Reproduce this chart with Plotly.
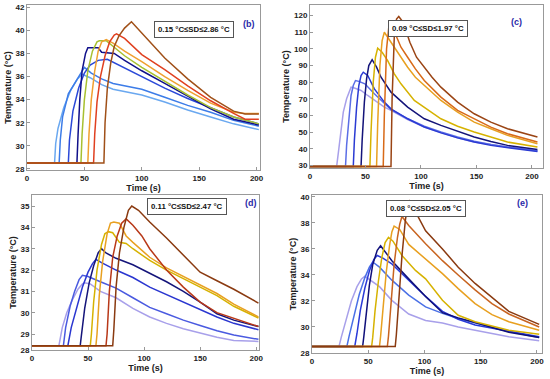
import plotly.graph_objects as go

# ---------------- Panel (b) ----------------
b_colors = ['#6aa8f0', '#3c7ce8', '#2a48d8', '#10108a', '#a8c030', '#f0a030', '#e04020', '#a05018']
b_t = [
    [0, 24, 25, 27, 32, 38, 44, 48, 55, 65, 75, 90, 100, 120, 140, 160, 180, 202],
    [0, 28, 29, 31, 36, 42, 47, 50, 56, 65, 75, 90, 100, 120, 140, 160, 180, 202],
    [0, 36, 37, 40, 45, 50, 55, 62, 70, 80, 100, 120, 140, 160, 180, 202],
    [0, 43.5, 44.5, 46, 48, 51, 53, 62, 65, 72, 76, 85, 100, 120, 140, 160, 180, 202],
    [0, 47, 48, 50, 53, 57, 61, 63, 69, 75, 85, 100, 120, 140, 160, 180, 202],
    [0, 53, 54, 56, 59, 62, 65, 69, 75, 85, 100, 120, 140, 160, 180, 190, 202],
    [0, 58, 59, 61, 64, 68, 72, 76, 78, 85, 100, 120, 140, 160, 180, 190, 202],
    [0, 67, 68, 70, 73, 76, 80, 85, 91, 100, 120, 140, 160, 180, 190, 202],
]
b_T = [
    [28.5, 28.5, 30.2, 31.5, 33.3, 34.8, 35.8, 36.2, 35.9, 35.3, 34.9, 34.6, 34.4, 33.8, 33.1, 32.5, 31.9, 31.4],
    [28.5, 28.5, 30.5, 32.5, 34.5, 35.5, 36.3, 36.8, 36.3, 35.8, 35.4, 35.1, 34.9, 34.2, 33.5, 32.9, 32.2, 31.7],
    [28.5, 28.5, 30.5, 33.0, 35.0, 36.3, 37.0, 37.4, 37.5, 37.0, 36.0, 35.0, 34.1, 33.3, 32.5, 31.9],
    [28.5, 28.5, 31.0, 34.0, 36.5, 38.0, 38.5, 38.5, 38.1, 38.0, 38.0, 37.4, 36.5, 35.4, 34.3, 33.2, 32.3, 31.8],
    [28.5, 28.5, 31.0, 34.0, 36.5, 38.2, 39.0, 39.1, 39.1, 38.6, 37.8, 36.8, 35.6, 34.4, 33.3, 32.5, 31.9],
    [28.5, 28.5, 31.0, 34.0, 36.5, 38.2, 39.0, 39.2, 38.9, 38.2, 37.3, 36.0, 34.8, 33.7, 32.9, 32.8, 32.8],
    [28.5, 28.5, 31.0, 33.8, 36.0, 37.8, 39.0, 39.6, 39.7, 39.3, 37.9, 36.6, 35.2, 33.9, 32.8, 32.3, 32.3],
    [28.5, 28.5, 32.0, 35.0, 37.2, 38.6, 39.5, 40.2, 40.75, 39.8, 37.6, 35.8, 34.2, 33.0, 32.75, 32.75],
]

# ---------------- Panel (c) ----------------
c_colors = ['#a8a0ea', '#5b6ee6', '#2b3bd3', '#14147a', '#d6b200', '#e8a020', '#d86a18', '#9a4414']
c_t = [
    [0, 24, 26, 28, 30, 33, 36, 37, 40, 46, 52, 58, 67, 73, 88, 103, 118, 133, 148, 163, 178, 205],
    [0, 32, 33, 35, 37, 39, 41, 44, 49.5, 58, 67, 73, 88, 103, 118, 133, 148, 163, 178, 205],
    [0, 39, 40, 42, 44, 46, 48, 52, 58, 67, 73, 88, 103, 118, 133, 148, 163, 178, 205],
    [0, 46, 47, 49, 51, 53, 56, 60, 64, 73, 88, 103, 118, 133, 148, 163, 178, 205],
    [0, 54, 55, 57, 59, 61, 65, 70, 76, 82, 94, 103, 118, 133, 148, 163, 178, 205],
    [0, 60, 61, 63, 65, 67, 70, 76, 82, 88, 95, 103, 118, 133, 148, 163, 178, 205],
    [0, 66, 67, 69, 71, 72, 75, 82, 88, 95, 103, 118, 133, 148, 163, 178, 205],
    [0, 73, 74, 76, 78, 80, 84, 90, 96, 103, 110, 118, 133, 148, 163, 178, 205],
]
c_T = [
    [29.3, 29.3, 40, 52, 62, 70, 75.5, 77, 76.5, 75, 72, 69, 65, 63, 57.5, 53, 49.6, 46.5, 44, 42.3, 41, 38.6],
    [29.3, 29.3, 42, 60, 72, 78, 81, 80.5, 79, 73, 67, 63.5, 58, 53.5, 50, 47, 44.5, 42.5, 41, 38.8],
    [29.3, 29.3, 45, 65, 78, 84, 86, 84, 76, 68, 64, 58, 53, 49.5, 46.5, 44, 42, 40.7, 38.3],
    [29.3, 29.3, 45, 68, 82, 90, 93.5, 89, 83, 74, 65, 58, 54, 50.5, 47, 44.3, 42, 39.5],
    [29.3, 29.3, 50, 80, 95, 100.5, 98, 93, 85, 79, 69, 65, 58, 53.5, 50, 47, 44, 41],
    [29.3, 29.3, 55, 90, 105, 110, 107, 101, 95, 89, 83, 78, 69, 62, 56, 52, 48, 43],
    [29.3, 29.3, 60, 100, 113, 114.5, 112, 101, 95, 88, 81, 71, 63, 58, 53, 49, 44],
    [29.3, 29.3, 70, 108, 118, 119.5, 116, 104, 95, 89, 83, 77, 68, 61, 56, 52, 47],
]

# ---------------- Panel (d) ----------------
d_colors = ['#a8a0ea', '#4a5ae0', '#2a36d0', '#14147a', '#d6b200', '#e8a020', '#b83818', '#8a3a10']
d_t = [
    [0, 24, 27, 31, 36, 41, 45, 47, 52, 61, 75, 90, 105, 120, 135, 150, 165, 180, 202],
    [0, 28, 30, 34, 38, 42, 45, 50, 61, 75, 90, 105, 120, 135, 150, 165, 180, 202],
    [0, 32, 35, 40, 45, 50, 54, 57, 62, 75, 90, 105, 120, 135, 150, 165, 180, 202],
    [0, 43, 44, 47, 51, 55, 59, 62, 66, 75, 90, 105, 120, 135, 150, 165, 180, 202],
    [0, 52, 53, 55, 58, 62, 65, 68, 72, 78, 84, 90, 105, 120, 135, 150, 165, 180, 202],
    [0, 57, 58, 60, 63, 67, 70, 73, 78, 84, 90, 105, 120, 135, 150, 165, 180, 202],
    [0, 66, 67, 69, 72, 76, 80, 84, 90, 98, 105, 120, 135, 150, 165, 180, 202],
    [0, 72, 73, 75, 78, 82, 86, 89, 95, 105, 120, 135, 150, 165, 180, 202],
]
d_T = [
    [28.45, 28.45, 29.3, 30.0, 30.6, 31.1, 31.35, 31.4, 31.35, 31.0, 30.7, 30.2, 29.8, 29.5, 29.25, 29.05, 28.85, 28.7, 28.65],
    [28.45, 28.45, 29.3, 30.3, 31.0, 31.55, 31.75, 31.7, 31.45, 31.15, 30.7, 30.25, 29.95, 29.65, 29.4, 29.15, 28.95, 28.75],
    [28.45, 28.45, 29.3, 30.3, 31.2, 31.9, 32.3, 32.5, 32.35, 32.0, 31.65, 31.2, 30.85, 30.5, 30.15, 29.8, 29.5, 29.2],
    [28.45, 28.45, 28.9, 30.2, 31.4, 32.2, 32.8, 33.0, 32.8, 32.55, 32.25, 31.85, 31.45, 31.0, 30.5, 29.95, 29.65, 29.35],
    [28.45, 28.45, 29.0, 30.5, 32.0, 33.2, 33.7, 33.8, 33.75, 33.3, 33.25, 33.0, 32.45, 32.0, 31.6, 31.2, 30.8, 30.3, 29.75],
    [28.45, 28.45, 29.0, 30.8, 32.4, 33.7, 34.2, 34.25, 34.2, 33.6, 33.3, 32.6, 32.1, 31.7, 31.3, 30.9, 30.4, 29.8],
    [28.45, 28.45, 29.0, 31.0, 32.6, 33.6, 34.2, 34.4, 34.1, 33.6, 33.0, 32.0, 31.2, 30.5, 30.0, 29.75, 29.35],
    [28.45, 28.45, 29.2, 31.2, 32.8, 34.0, 34.8, 35.0, 34.8, 34.25, 33.5, 32.7, 31.9, 31.5, 31.1, 30.45],
]

# ---------------- Panel (e) ----------------
e_colors = ['#a8a0ea', '#4a70e6', '#2a3ad8', '#10107a', '#d6b200', '#e8a020', '#c86420', '#8a3a10']
e_t = [
    [0, 24, 26, 30, 35, 40, 44, 47, 52, 56, 60, 71, 86, 101, 116, 130, 145, 160, 175, 202],
    [0, 31, 33, 37, 42, 47, 51, 54, 60, 71, 86, 101, 116, 130, 145, 160, 175, 202],
    [0, 38, 40, 43, 47, 51, 55, 58, 63, 71, 86, 101, 116, 130, 145, 160, 175, 202],
    [0, 45, 46, 48, 51, 54, 58, 61, 65, 71, 86, 101, 116, 130, 145, 160, 175, 202],
    [0, 53, 54, 56, 59, 62, 65, 68, 72, 80, 92, 101, 116, 130, 145, 160, 175, 202],
    [0, 60, 61, 63, 66, 69, 71, 73, 78, 86, 101, 116, 130, 145, 160, 175, 202],
    [0, 67, 68, 70, 73, 76, 78, 80, 86, 101, 116, 130, 145, 160, 175, 202],
    [0, 74, 75, 77, 80, 83, 85, 86.5, 90, 95, 101, 116, 130, 145, 160, 175, 202],
]
e_T = [
    [28.5, 28.5, 29.2, 30.5, 32.0, 33.1, 33.7, 33.9, 33.6, 33.3, 33.1, 32.05, 31.0, 30.5, 30.3, 30.0, 29.75, 29.5, 29.25, 28.95],
    [28.5, 28.5, 29.3, 30.8, 32.5, 33.8, 34.6, 35.0, 34.6, 33.6, 32.45, 31.55, 31.05, 30.65, 30.3, 29.95, 29.65, 29.2],
    [28.5, 28.5, 29.5, 31.3, 33.0, 34.3, 35.2, 35.5, 35.3, 34.85, 33.6, 32.35, 31.2, 30.6, 30.15, 29.9, 29.65, 29.25],
    [28.5, 28.5, 29.2, 31.0, 33.2, 34.8, 35.9, 36.25, 35.8, 35.1, 33.7, 32.35, 31.1, 30.7, 30.35, 29.95, 29.6, 29.2],
    [28.5, 28.5, 29.2, 31.2, 33.5, 35.3, 36.5, 36.9, 36.6, 35.5, 34.35, 33.7, 32.05, 30.9, 30.4, 30.05, 29.75, 29.45],
    [28.5, 28.5, 29.3, 31.5, 34.2, 36.3, 37.3, 37.75, 37.5, 36.35, 35.2, 34.1, 32.95, 31.8, 30.95, 30.4, 29.75],
    [28.5, 28.5, 29.3, 31.8, 34.8, 36.9, 37.9, 38.5, 37.8, 36.4, 35.1, 34.0, 32.85, 31.8, 31.0, 30.0],
    [28.5, 28.5, 29.4, 32.0, 35.5, 38.2, 39.4, 39.75, 39.2, 38.4, 37.4, 36.0, 34.6, 33.35, 32.3, 31.2, 30.2],
]

panels = [
    ('x', 'y', b_t, b_T, b_colors),
    ('x2', 'y2', c_t, c_T, c_colors),
    ('x3', 'y3', d_t, d_T, d_colors),
    ('x4', 'y4', e_t, e_T, e_colors),
]

x_ticks = [0, 50, 100, 150, 200]
b_yticks = [28, 30, 32, 34, 36, 38, 40, 42]
c_yticks = [30, 40, 50, 60, 70, 80, 90, 100, 110, 120]
d_yticks = [28.25, 29, 30, 31, 32, 33, 34, 35]
d_yticktext = ['28', '29', '30', '31', '32', '33', '34', '35']
e_yticks = [28, 30, 32, 34, 36, 38, 40]

sd_labels = ['0.15 °C≤SD≤2.86 °C', '0.09 °C≤SD≤1.97 °C', '0.11 °C≤SD≤2.47 °C', '0.08 °C≤SD≤2.05 °C']
panel_labels = ['(b)', '(c)', '(d)', '(e)']

fig = go.Figure()
for xa, ya, ts, Ts, cols in panels:
    for t, T, col in zip(ts, Ts, cols):
        fig.add_trace(go.Scatter(x=t, y=T, xaxis=xa, yaxis=ya, mode='lines',
                                 line=dict(color=col, width=1.5), showlegend=False,
                                 hoverinfo='skip'))

W, H = 550, 379
def dx(a, b):
    return [a / W, b / W]
def dy(top, bot):
    return [1 - bot / H, 1 - top / H]

tickfont = dict(family='Arial', size=8, color='#222', weight='bold')
titlefont = dict(family='Arial', size=9, color='#222', weight='bold')

def xaxis(domain, rng, anchor):
    return dict(domain=domain, range=rng, anchor=anchor, tickvals=x_ticks,
                showline=True, linecolor='#999', linewidth=1, mirror=True,
                ticks='inside', ticklen=3, tickcolor='#999', showgrid=False,
                zeroline=False, tickfont=tickfont, automargin=False,
                title=dict(text='Time (s)', font=titlefont, standoff=1))

def yaxis(domain, rng, anchor, tv, tt=None):
    d = dict(domain=domain, range=rng, anchor=anchor, tickvals=tv,
             showline=True, linecolor='#999', linewidth=1, mirror=True,
             ticks='inside', ticklen=3, tickcolor='#999', showgrid=False,
             zeroline=False, tickfont=tickfont, automargin=False,
             title=dict(text='Temperature (°C)', font=titlefont, standoff=2))
    if tt is not None:
        d['ticktext'] = tt
    return d

fig.update_layout(
    width=W, height=H, margin=dict(l=0, r=0, t=0, b=0),
    plot_bgcolor='white', paper_bgcolor='white',
    xaxis=xaxis(dx(27, 260), [0, 203], 'y'),
    yaxis=yaxis(dy(5, 170), [27.9, 42.2], 'x', b_yticks),
    xaxis2=xaxis(dx(310, 543), [0, 210], 'y2'),
    yaxis2=yaxis(dy(5, 168), [28.4, 126.4], 'x2', c_yticks),
    xaxis3=xaxis(dx(32, 259), [0, 202.5], 'y3'),
    yaxis3=yaxis(dy(195, 350), [28.25, 35.52], 'x3', d_yticks, d_yticktext),
    xaxis4=xaxis(dx(312, 542), [0, 204.5], 'y4'),
    yaxis4=yaxis(dy(195, 353), [28, 40.15], 'x4', e_yticks),
)

box_pos = [(194, 20.5), (467.5, 20), (187, 206), (466, 208)]
lab_pos = [(249, 17), (524, 15), (251, 203), (530, 203)]
for txt, (bx, by), lab, (lx, ly) in zip(sd_labels, box_pos, panel_labels, lab_pos):
    fig.add_annotation(x=bx / W, y=1 - by / H, xref='paper', yref='paper', text=txt,
                       showarrow=False, font=dict(family='Arial', size=7.8, color='#111', weight='bold'),
                       bgcolor='white', bordercolor='#555', borderwidth=1, borderpad=3)
    fig.add_annotation(x=lx / W, y=1 - ly / H, xref='paper', yref='paper', text=lab,
                       showarrow=False, font=dict(family='Arial', size=9, color='#2a2aa8', weight='bold'))

fig.write_html('out.html', config={'displayModeBar': False},
               post_script="document.body.style.margin='0px';document.body.style.overflow='hidden';")
